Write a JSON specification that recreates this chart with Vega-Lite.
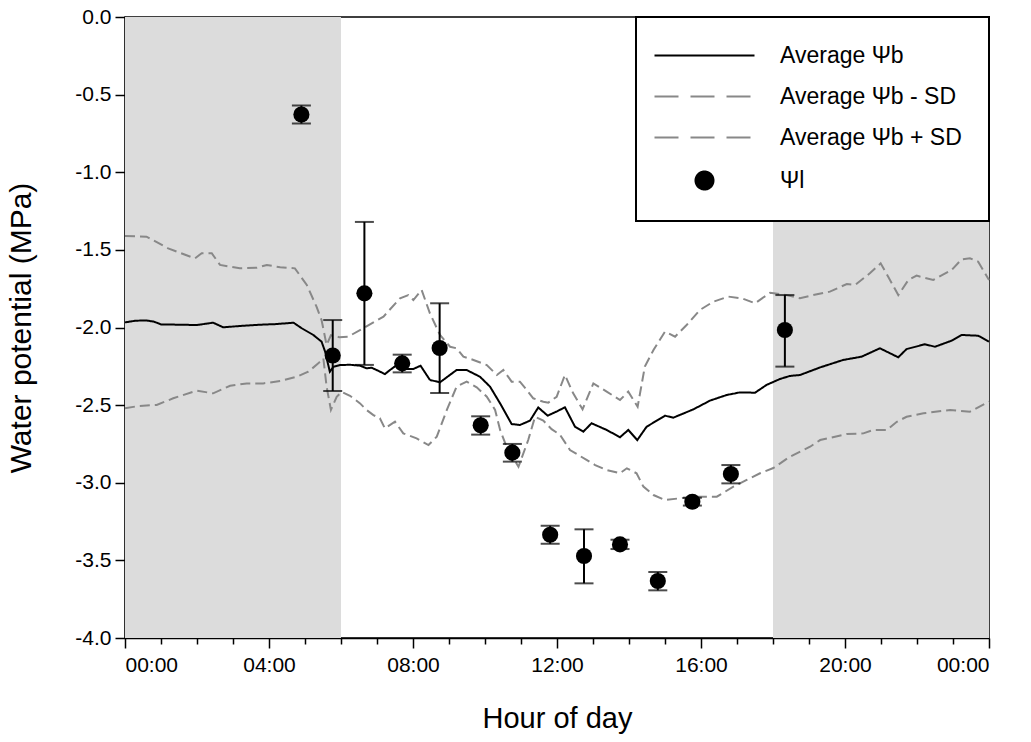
{
  "$schema": "https://vega.github.io/schema/vega-lite/v6.json",
  "autosize": "none",
  "width": 864,
  "height": 621,
  "padding": {"left": 125, "top": 17, "right": 42, "bottom": 104},
  "background": "white",
  "config": {
    "font": "Liberation Sans",
    "view": {"stroke": "black", "strokeWidth": 1.5},
    "axis": {"grid": false, "domainColor": "black", "domainWidth": 1.5, "tickColor": "black", "tickWidth": 1.5, "labelColor": "black", "titleColor": "black", "labelFont": "Liberation Sans", "titleFont": "Liberation Sans", "titleFontWeight": "normal"}
  },
  "datasets": {
    "night": [{"start": 0, "end": 6}, {"start": 18, "end": 24}],
    "lines": [
      {"h": 0, "v": -1.967, "s": "Average Ψb"},
      {"h": 0.3, "v": -1.956, "s": "Average Ψb"},
      {"h": 0.6, "v": -1.955, "s": "Average Ψb"},
      {"h": 0.8, "v": -1.962, "s": "Average Ψb"},
      {"h": 1.0, "v": -1.98, "s": "Average Ψb"},
      {"h": 1.5, "v": -1.982, "s": "Average Ψb"},
      {"h": 2.0, "v": -1.984, "s": "Average Ψb"},
      {"h": 2.45, "v": -1.969, "s": "Average Ψb"},
      {"h": 2.73, "v": -1.999, "s": "Average Ψb"},
      {"h": 3.2, "v": -1.99, "s": "Average Ψb"},
      {"h": 3.75, "v": -1.982, "s": "Average Ψb"},
      {"h": 4.2, "v": -1.978, "s": "Average Ψb"},
      {"h": 4.68, "v": -1.969, "s": "Average Ψb"},
      {"h": 4.91, "v": -2.005, "s": "Average Ψb"},
      {"h": 5.23, "v": -2.048, "s": "Average Ψb"},
      {"h": 5.46, "v": -2.091, "s": "Average Ψb"},
      {"h": 5.56, "v": -2.156, "s": "Average Ψb"},
      {"h": 5.69, "v": -2.285, "s": "Average Ψb"},
      {"h": 5.79, "v": -2.253, "s": "Average Ψb"},
      {"h": 5.97, "v": -2.242, "s": "Average Ψb"},
      {"h": 6.25, "v": -2.24, "s": "Average Ψb"},
      {"h": 6.53, "v": -2.246, "s": "Average Ψb"},
      {"h": 6.71, "v": -2.263, "s": "Average Ψb"},
      {"h": 6.85, "v": -2.259, "s": "Average Ψb"},
      {"h": 6.99, "v": -2.274, "s": "Average Ψb"},
      {"h": 7.22, "v": -2.3, "s": "Average Ψb"},
      {"h": 7.36, "v": -2.274, "s": "Average Ψb"},
      {"h": 7.55, "v": -2.242, "s": "Average Ψb"},
      {"h": 7.78, "v": -2.267, "s": "Average Ψb"},
      {"h": 8.01, "v": -2.267, "s": "Average Ψb"},
      {"h": 8.21, "v": -2.246, "s": "Average Ψb"},
      {"h": 8.47, "v": -2.338, "s": "Average Ψb"},
      {"h": 8.75, "v": -2.353, "s": "Average Ψb"},
      {"h": 9.0, "v": -2.31, "s": "Average Ψb"},
      {"h": 9.21, "v": -2.274, "s": "Average Ψb"},
      {"h": 9.49, "v": -2.274, "s": "Average Ψb"},
      {"h": 9.86, "v": -2.317, "s": "Average Ψb"},
      {"h": 10.14, "v": -2.381, "s": "Average Ψb"},
      {"h": 10.42, "v": -2.489, "s": "Average Ψb"},
      {"h": 10.74, "v": -2.622, "s": "Average Ψb"},
      {"h": 10.97, "v": -2.628, "s": "Average Ψb"},
      {"h": 11.25, "v": -2.6, "s": "Average Ψb"},
      {"h": 11.48, "v": -2.515, "s": "Average Ψb"},
      {"h": 11.74, "v": -2.568, "s": "Average Ψb"},
      {"h": 12.0, "v": -2.54, "s": "Average Ψb"},
      {"h": 12.22, "v": -2.514, "s": "Average Ψb"},
      {"h": 12.5, "v": -2.639, "s": "Average Ψb"},
      {"h": 12.73, "v": -2.671, "s": "Average Ψb"},
      {"h": 12.96, "v": -2.617, "s": "Average Ψb"},
      {"h": 13.38, "v": -2.66, "s": "Average Ψb"},
      {"h": 13.75, "v": -2.707, "s": "Average Ψb"},
      {"h": 13.98, "v": -2.66, "s": "Average Ψb"},
      {"h": 14.23, "v": -2.725, "s": "Average Ψb"},
      {"h": 14.49, "v": -2.639, "s": "Average Ψb"},
      {"h": 15.0, "v": -2.568, "s": "Average Ψb"},
      {"h": 15.23, "v": -2.581, "s": "Average Ψb"},
      {"h": 15.79, "v": -2.527, "s": "Average Ψb"},
      {"h": 16.25, "v": -2.471, "s": "Average Ψb"},
      {"h": 16.71, "v": -2.435, "s": "Average Ψb"},
      {"h": 17.08, "v": -2.418, "s": "Average Ψb"},
      {"h": 17.5, "v": -2.42, "s": "Average Ψb"},
      {"h": 17.82, "v": -2.37, "s": "Average Ψb"},
      {"h": 18.19, "v": -2.332, "s": "Average Ψb"},
      {"h": 18.47, "v": -2.312, "s": "Average Ψb"},
      {"h": 18.75, "v": -2.306, "s": "Average Ψb"},
      {"h": 19.31, "v": -2.257, "s": "Average Ψb"},
      {"h": 19.95, "v": -2.209, "s": "Average Ψb"},
      {"h": 20.46, "v": -2.188, "s": "Average Ψb"},
      {"h": 20.97, "v": -2.134, "s": "Average Ψb"},
      {"h": 21.48, "v": -2.192, "s": "Average Ψb"},
      {"h": 21.71, "v": -2.139, "s": "Average Ψb"},
      {"h": 22.22, "v": -2.108, "s": "Average Ψb"},
      {"h": 22.5, "v": -2.124, "s": "Average Ψb"},
      {"h": 22.96, "v": -2.085, "s": "Average Ψb"},
      {"h": 23.24, "v": -2.048, "s": "Average Ψb"},
      {"h": 23.7, "v": -2.053, "s": "Average Ψb"},
      {"h": 24.0, "v": -2.091, "s": "Average Ψb"},

      {"h": 0, "v": -1.411, "s": "Average Ψb + SD"},
      {"h": 0.6, "v": -1.415, "s": "Average Ψb + SD"},
      {"h": 1.2, "v": -1.49, "s": "Average Ψb + SD"},
      {"h": 1.94, "v": -1.555, "s": "Average Ψb + SD"},
      {"h": 2.13, "v": -1.522, "s": "Average Ψb + SD"},
      {"h": 2.41, "v": -1.522, "s": "Average Ψb + SD"},
      {"h": 2.64, "v": -1.597, "s": "Average Ψb + SD"},
      {"h": 3.19, "v": -1.619, "s": "Average Ψb + SD"},
      {"h": 3.66, "v": -1.615, "s": "Average Ψb + SD"},
      {"h": 3.94, "v": -1.597, "s": "Average Ψb + SD"},
      {"h": 4.31, "v": -1.612, "s": "Average Ψb + SD"},
      {"h": 4.72, "v": -1.619, "s": "Average Ψb + SD"},
      {"h": 5.05, "v": -1.726, "s": "Average Ψb + SD"},
      {"h": 5.32, "v": -1.866, "s": "Average Ψb + SD"},
      {"h": 5.46, "v": -1.952, "s": "Average Ψb + SD"},
      {"h": 5.6, "v": -2.113, "s": "Average Ψb + SD"},
      {"h": 5.72, "v": -2.05, "s": "Average Ψb + SD"},
      {"h": 5.95, "v": -2.062, "s": "Average Ψb + SD"},
      {"h": 6.2, "v": -2.059, "s": "Average Ψb + SD"},
      {"h": 6.62, "v": -2.005, "s": "Average Ψb + SD"},
      {"h": 7.18, "v": -1.93, "s": "Average Ψb + SD"},
      {"h": 7.64, "v": -1.812, "s": "Average Ψb + SD"},
      {"h": 7.87, "v": -1.791, "s": "Average Ψb + SD"},
      {"h": 8.01, "v": -1.823, "s": "Average Ψb + SD"},
      {"h": 8.24, "v": -1.758, "s": "Average Ψb + SD"},
      {"h": 8.47, "v": -1.909, "s": "Average Ψb + SD"},
      {"h": 8.75, "v": -2.048, "s": "Average Ψb + SD"},
      {"h": 9.03, "v": -2.124, "s": "Average Ψb + SD"},
      {"h": 9.21, "v": -2.134, "s": "Average Ψb + SD"},
      {"h": 9.4, "v": -2.188, "s": "Average Ψb + SD"},
      {"h": 9.68, "v": -2.209, "s": "Average Ψb + SD"},
      {"h": 10.05, "v": -2.242, "s": "Average Ψb + SD"},
      {"h": 10.33, "v": -2.306, "s": "Average Ψb + SD"},
      {"h": 10.51, "v": -2.274, "s": "Average Ψb + SD"},
      {"h": 10.74, "v": -2.349, "s": "Average Ψb + SD"},
      {"h": 10.97, "v": -2.349, "s": "Average Ψb + SD"},
      {"h": 11.16, "v": -2.403, "s": "Average Ψb + SD"},
      {"h": 11.34, "v": -2.456, "s": "Average Ψb + SD"},
      {"h": 11.62, "v": -2.478, "s": "Average Ψb + SD"},
      {"h": 11.76, "v": -2.484, "s": "Average Ψb + SD"},
      {"h": 11.99, "v": -2.446, "s": "Average Ψb + SD"},
      {"h": 12.22, "v": -2.306, "s": "Average Ψb + SD"},
      {"h": 12.45, "v": -2.424, "s": "Average Ψb + SD"},
      {"h": 12.71, "v": -2.527, "s": "Average Ψb + SD"},
      {"h": 13.01, "v": -2.36, "s": "Average Ψb + SD"},
      {"h": 13.38, "v": -2.413, "s": "Average Ψb + SD"},
      {"h": 13.75, "v": -2.467, "s": "Average Ψb + SD"},
      {"h": 13.98, "v": -2.413, "s": "Average Ψb + SD"},
      {"h": 14.24, "v": -2.51, "s": "Average Ψb + SD"},
      {"h": 14.44, "v": -2.252, "s": "Average Ψb + SD"},
      {"h": 14.68, "v": -2.145, "s": "Average Ψb + SD"},
      {"h": 15.0, "v": -2.027, "s": "Average Ψb + SD"},
      {"h": 15.28, "v": -2.059, "s": "Average Ψb + SD"},
      {"h": 15.6, "v": -1.984, "s": "Average Ψb + SD"},
      {"h": 15.97, "v": -1.887, "s": "Average Ψb + SD"},
      {"h": 16.34, "v": -1.834, "s": "Average Ψb + SD"},
      {"h": 16.76, "v": -1.801, "s": "Average Ψb + SD"},
      {"h": 17.13, "v": -1.812, "s": "Average Ψb + SD"},
      {"h": 17.5, "v": -1.844, "s": "Average Ψb + SD"},
      {"h": 17.92, "v": -1.776, "s": "Average Ψb + SD"},
      {"h": 18.35, "v": -1.79, "s": "Average Ψb + SD"},
      {"h": 18.75, "v": -1.812, "s": "Average Ψb + SD"},
      {"h": 19.12, "v": -1.791, "s": "Average Ψb + SD"},
      {"h": 19.58, "v": -1.769, "s": "Average Ψb + SD"},
      {"h": 20.05, "v": -1.72, "s": "Average Ψb + SD"},
      {"h": 20.28, "v": -1.726, "s": "Average Ψb + SD"},
      {"h": 20.69, "v": -1.651, "s": "Average Ψb + SD"},
      {"h": 20.99, "v": -1.587, "s": "Average Ψb + SD"},
      {"h": 21.2, "v": -1.673, "s": "Average Ψb + SD"},
      {"h": 21.48, "v": -1.791, "s": "Average Ψb + SD"},
      {"h": 21.76, "v": -1.694, "s": "Average Ψb + SD"},
      {"h": 21.99, "v": -1.666, "s": "Average Ψb + SD"},
      {"h": 22.45, "v": -1.694, "s": "Average Ψb + SD"},
      {"h": 22.96, "v": -1.63, "s": "Average Ψb + SD"},
      {"h": 23.24, "v": -1.561, "s": "Average Ψb + SD"},
      {"h": 23.47, "v": -1.554, "s": "Average Ψb + SD"},
      {"h": 23.7, "v": -1.576, "s": "Average Ψb + SD"},
      {"h": 24.0, "v": -1.694, "s": "Average Ψb + SD"},

      {"h": 0, "v": -2.52, "s": "Average Ψb - SD"},
      {"h": 0.4, "v": -2.505, "s": "Average Ψb - SD"},
      {"h": 0.88, "v": -2.499, "s": "Average Ψb - SD"},
      {"h": 1.34, "v": -2.456, "s": "Average Ψb - SD"},
      {"h": 1.99, "v": -2.407, "s": "Average Ψb - SD"},
      {"h": 2.45, "v": -2.424, "s": "Average Ψb - SD"},
      {"h": 2.92, "v": -2.375, "s": "Average Ψb - SD"},
      {"h": 3.38, "v": -2.36, "s": "Average Ψb - SD"},
      {"h": 3.84, "v": -2.36, "s": "Average Ψb - SD"},
      {"h": 4.31, "v": -2.345, "s": "Average Ψb - SD"},
      {"h": 4.77, "v": -2.317, "s": "Average Ψb - SD"},
      {"h": 5.09, "v": -2.285, "s": "Average Ψb - SD"},
      {"h": 5.37, "v": -2.231, "s": "Average Ψb - SD"},
      {"h": 5.51, "v": -2.199, "s": "Average Ψb - SD"},
      {"h": 5.6, "v": -2.381, "s": "Average Ψb - SD"},
      {"h": 5.72, "v": -2.531, "s": "Average Ψb - SD"},
      {"h": 5.88, "v": -2.446, "s": "Average Ψb - SD"},
      {"h": 6.02, "v": -2.415, "s": "Average Ψb - SD"},
      {"h": 6.25, "v": -2.44, "s": "Average Ψb - SD"},
      {"h": 6.53, "v": -2.489, "s": "Average Ψb - SD"},
      {"h": 6.71, "v": -2.531, "s": "Average Ψb - SD"},
      {"h": 6.9, "v": -2.564, "s": "Average Ψb - SD"},
      {"h": 7.08, "v": -2.585, "s": "Average Ψb - SD"},
      {"h": 7.22, "v": -2.65, "s": "Average Ψb - SD"},
      {"h": 7.5, "v": -2.607, "s": "Average Ψb - SD"},
      {"h": 7.73, "v": -2.682, "s": "Average Ψb - SD"},
      {"h": 8.1, "v": -2.714, "s": "Average Ψb - SD"},
      {"h": 8.43, "v": -2.757, "s": "Average Ψb - SD"},
      {"h": 8.66, "v": -2.703, "s": "Average Ψb - SD"},
      {"h": 8.94, "v": -2.531, "s": "Average Ψb - SD"},
      {"h": 9.21, "v": -2.381, "s": "Average Ψb - SD"},
      {"h": 9.49, "v": -2.349, "s": "Average Ψb - SD"},
      {"h": 9.77, "v": -2.385, "s": "Average Ψb - SD"},
      {"h": 10.05, "v": -2.446, "s": "Average Ψb - SD"},
      {"h": 10.28, "v": -2.531, "s": "Average Ψb - SD"},
      {"h": 10.42, "v": -2.66, "s": "Average Ψb - SD"},
      {"h": 10.6, "v": -2.768, "s": "Average Ψb - SD"},
      {"h": 10.93, "v": -2.897, "s": "Average Ψb - SD"},
      {"h": 11.2, "v": -2.725, "s": "Average Ψb - SD"},
      {"h": 11.39, "v": -2.575, "s": "Average Ψb - SD"},
      {"h": 11.62, "v": -2.6, "s": "Average Ψb - SD"},
      {"h": 11.85, "v": -2.655, "s": "Average Ψb - SD"},
      {"h": 12.08, "v": -2.69, "s": "Average Ψb - SD"},
      {"h": 12.36, "v": -2.789, "s": "Average Ψb - SD"},
      {"h": 12.55, "v": -2.815, "s": "Average Ψb - SD"},
      {"h": 12.82, "v": -2.853, "s": "Average Ψb - SD"},
      {"h": 13.06, "v": -2.886, "s": "Average Ψb - SD"},
      {"h": 13.38, "v": -2.918, "s": "Average Ψb - SD"},
      {"h": 13.75, "v": -2.939, "s": "Average Ψb - SD"},
      {"h": 13.94, "v": -2.907, "s": "Average Ψb - SD"},
      {"h": 14.21, "v": -2.939, "s": "Average Ψb - SD"},
      {"h": 14.4, "v": -3.025, "s": "Average Ψb - SD"},
      {"h": 14.68, "v": -3.079, "s": "Average Ψb - SD"},
      {"h": 15.0, "v": -3.111, "s": "Average Ψb - SD"},
      {"h": 15.42, "v": -3.1, "s": "Average Ψb - SD"},
      {"h": 15.88, "v": -3.09, "s": "Average Ψb - SD"},
      {"h": 16.44, "v": -3.09, "s": "Average Ψb - SD"},
      {"h": 16.9, "v": -3.025, "s": "Average Ψb - SD"},
      {"h": 17.27, "v": -2.982, "s": "Average Ψb - SD"},
      {"h": 17.64, "v": -2.939, "s": "Average Ψb - SD"},
      {"h": 18.01, "v": -2.905, "s": "Average Ψb - SD"},
      {"h": 18.47, "v": -2.832, "s": "Average Ψb - SD"},
      {"h": 19.03, "v": -2.768, "s": "Average Ψb - SD"},
      {"h": 19.31, "v": -2.725, "s": "Average Ψb - SD"},
      {"h": 20.05, "v": -2.686, "s": "Average Ψb - SD"},
      {"h": 20.51, "v": -2.682, "s": "Average Ψb - SD"},
      {"h": 20.79, "v": -2.66, "s": "Average Ψb - SD"},
      {"h": 21.16, "v": -2.66, "s": "Average Ψb - SD"},
      {"h": 21.44, "v": -2.607, "s": "Average Ψb - SD"},
      {"h": 21.71, "v": -2.575, "s": "Average Ψb - SD"},
      {"h": 22.18, "v": -2.553, "s": "Average Ψb - SD"},
      {"h": 22.92, "v": -2.531, "s": "Average Ψb - SD"},
      {"h": 23.47, "v": -2.542, "s": "Average Ψb - SD"},
      {"h": 24.0, "v": -2.478, "s": "Average Ψb - SD"}
    ],
    "leaf": [
      {"h": 4.9, "v": -0.628, "lo": -0.686, "hi": -0.57, "s": "Ψl"},
      {"h": 5.77, "v": -2.18, "lo": -2.409, "hi": -1.952, "s": "Ψl"},
      {"h": 6.65, "v": -1.78, "lo": -2.241, "hi": -1.32, "s": "Ψl"},
      {"h": 7.7, "v": -2.231, "lo": -2.289, "hi": -2.175, "s": "Ψl"},
      {"h": 8.74, "v": -2.132, "lo": -2.422, "hi": -1.844, "s": "Ψl"},
      {"h": 9.88, "v": -2.63, "lo": -2.69, "hi": -2.572, "s": "Ψl"},
      {"h": 10.76, "v": -2.806, "lo": -2.864, "hi": -2.75, "s": "Ψl"},
      {"h": 11.81, "v": -3.335, "lo": -3.393, "hi": -3.277, "s": "Ψl"},
      {"h": 12.75, "v": -3.472, "lo": -3.648, "hi": -3.3, "s": "Ψl"},
      {"h": 13.75, "v": -3.397, "lo": -3.427, "hi": -3.367, "s": "Ψl"},
      {"h": 14.8, "v": -3.633, "lo": -3.693, "hi": -3.575, "s": "Ψl"},
      {"h": 15.76, "v": -3.122, "lo": -3.147, "hi": -3.097, "s": "Ψl"},
      {"h": 16.83, "v": -2.944, "lo": -3.004, "hi": -2.886, "s": "Ψl"},
      {"h": 18.33, "v": -2.016, "lo": -2.252, "hi": -1.791, "s": "Ψl"}
    ]
  },
  "encoding": {
    "x": {
      "type": "quantitative",
      "scale": {"domain": [0, 24], "nice": false, "zero": false},
      "axis": {
        "title": "Hour of day",
        "titleFontSize": 29,
        "titlePadding": 29,
        "values": [0,1,2,3,4,5,6,7,8,9,10,11,12,13,14,15,16,17,18,19,20,21,22,23,24],
        "labelExpr": "datum.value % 4 === 0 ? ((datum.value % 24 < 10 ? '0' : '') + (datum.value % 24) + ':00') : ''",
        "labelOverlap": false,
        "labelFontSize": 21,
        "labelPadding": 6,
        "tickSize": {"condition": {"test": "datum.value % 4 === 0", "value": 10}, "value": 6}
      }
    }
  },
  "layer": [
    {
      "data": {"name": "night"},
      "mark": {"type": "rect", "color": "#dcdcdc"},
      "encoding": {
        "x": {"field": "start", "type": "quantitative"},
        "x2": {"field": "end"}
      }
    },
    {
      "data": {"name": "lines"},
      "mark": {"type": "line", "strokeWidth": 2},
      "encoding": {
        "x": {"field": "h", "type": "quantitative"},
        "y": {
          "field": "v", "type": "quantitative",
          "scale": {"domain": [-4, 0], "nice": false, "zero": false},
          "axis": {
            "title": "Water potential (MPa)",
            "titleFontSize": 30,
            "titlePadding": 38,
            "values": [0, -0.5, -1, -1.5, -2, -2.5, -3, -3.5, -4],
            "labelExpr": "replace(format(datum.value, '.1f'), '−', '-')",
            "labelFontSize": 21,
            "labelPadding": 4,
            "tickSize": 10
          }
        },
        "color": {
          "field": "s", "type": "nominal",
          "scale": {
            "domain": ["Average Ψb", "Average Ψb - SD", "Average Ψb + SD", "Ψl"],
            "range": ["black", "#888888", "#888888", "black"]
          },
          "legend": {
            "title": null,
            "orient": "top-right",
            "offset": 0,
            "padding": 27,
            "rowPadding": 17,
            "fillColor": "white",
            "strokeColor": "black",
            "labelFont": "Liberation Sans",
            "labelFontSize": 23,
            "labelColor": "black",
            "labelOffset": 94,
            "labelLimit": 400,
            "symbolSize": 400,
            "symbolStrokeWidth": 2,
            "encode": {
              "legend": {"update": {"strokeWidth": {"value": 2}}},
              "symbols": {
                "update": {
                  "shape": {"signal": "datum.value === 'Ψl' ? 'M2.1,0A0.9,0.9,0,1,1,3.9,0A0.9,0.9,0,1,1,2.1,0Z' : 'M-2,0H8'"},
                  "fill": {"signal": "datum.value === 'Ψl' ? 'black' : 'transparent'"},
                  "stroke": {"signal": "datum.value === 'Average Ψb' || datum.value === 'Ψl' ? 'black' : '#888888'"},
                  "strokeDash": {"signal": "datum.value === 'Average Ψb' || datum.value === 'Ψl' ? [1, 0] : [24, 12]"},
                  "size": {"value": 400},
                  "opacity": {"value": 1}
                }
              }
            }
          }
        },
        "strokeDash": {
          "field": "s", "type": "nominal",
          "scale": {
            "domain": ["Average Ψb", "Average Ψb - SD", "Average Ψb + SD"],
            "range": [[1, 0], [10, 5], [10, 5]]
          },
          "legend": null
        }
      }
    },
    {
      "data": {"name": "leaf"},
      "mark": {"type": "rule", "color": "black", "strokeWidth": 2},
      "encoding": {
        "x": {"field": "h", "type": "quantitative"},
        "y": {"field": "lo", "type": "quantitative"},
        "y2": {"field": "hi"}
      }
    },
    {
      "data": {"name": "leaf"},
      "mark": {"type": "tick", "color": "black", "orient": "horizontal", "size": 19, "thickness": 2},
      "encoding": {
        "x": {"field": "h", "type": "quantitative"},
        "y": {"field": "lo", "type": "quantitative"}
      }
    },
    {
      "data": {"name": "leaf"},
      "mark": {"type": "tick", "color": "black", "orient": "horizontal", "size": 19, "thickness": 2},
      "encoding": {
        "x": {"field": "h", "type": "quantitative"},
        "y": {"field": "hi", "type": "quantitative"}
      }
    },
    {
      "data": {"name": "leaf"},
      "mark": {"type": "point", "filled": true, "shape": "circle", "size": 260, "opacity": 1},
      "encoding": {
        "x": {"field": "h", "type": "quantitative"},
        "y": {"field": "v", "type": "quantitative"},
        "color": {"field": "s", "type": "nominal"}
      }
    }
  ]
}
